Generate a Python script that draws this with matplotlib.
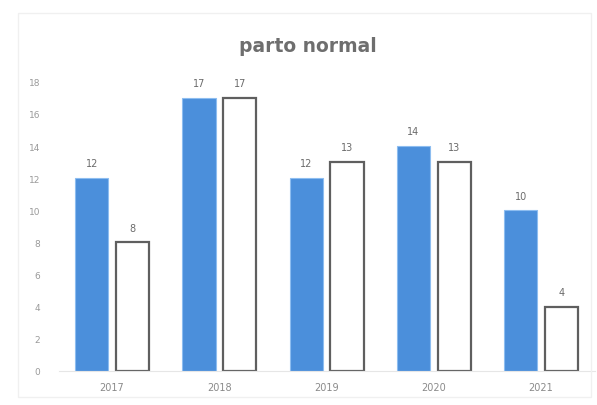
import numpy as np
import matplotlib.pyplot as plt
from matplotlib.patches import Rectangle

# data
years = ['2017', '2018', '2019', '2020', '2021']
serie_azul = [12, 17, 12, 14, 10]
serie_branca = [8, 17, 13, 13, 4]
yticks = list(range(0, 19, 2))

fig = plt.figure(figsize=(5.97, 4.06), dpi=100)
fig.patch.set_facecolor('white')

# faint outer frame of the chart area
fig.add_artist(Rectangle((0.03, 0.02), 0.96, 0.945, transform=fig.transFigure,
                         fill=False, edgecolor='#f0f0f0', linewidth=1.0))

ax = fig.add_axes([0.098, 0.084, 0.898, 0.712])

x = np.arange(len(years))
w = 0.31
off = 0.19

ax.bar(x - off, serie_azul, width=w, color='#4b8fdb', edgecolor='#8dbdf0',
       linewidth=0.8, zorder=2)
ax.bar(x + off, serie_branca, width=w, color='white', edgecolor='#5f5f5f',
       linewidth=1.6, zorder=2)

for xi, v in zip(x - off, serie_azul):
    ax.annotate(str(v), (xi, v), xytext=(0, 7), textcoords='offset points',
                ha='center', va='bottom', fontsize=7, color='#6b6b6b')
for xi, v in zip(x + off, serie_branca):
    ax.annotate(str(v), (xi, v), xytext=(0, 7), textcoords='offset points',
                ha='center', va='bottom', fontsize=7, color='#6b6b6b')

ax.set_xlim(-0.5, len(years) - 0.5)
ax.set_ylim(0, 18)
ax.set_xticks(x)
ax.set_xticklabels(years, fontsize=7, color='#8a8a8a')
ax.set_yticks(yticks)
ax.set_yticklabels([str(t) for t in yticks], fontsize=6.5, color='#9a9a9a')
ax.tick_params(length=0, pad=8)
ax.tick_params(axis='y', pad=13)

for side in ['top', 'right', 'left']:
    ax.spines[side].set_visible(False)
ax.spines['bottom'].set_color('#e6e6e6')
ax.spines['bottom'].set_linewidth(0.8)

fig.text(0.515, 0.885, 'parto normal', ha='center', va='center',
         fontsize=13.5, fontweight='bold', color='#6e6e6e')

fig.savefig('out.png', dpi=100, facecolor='white')
